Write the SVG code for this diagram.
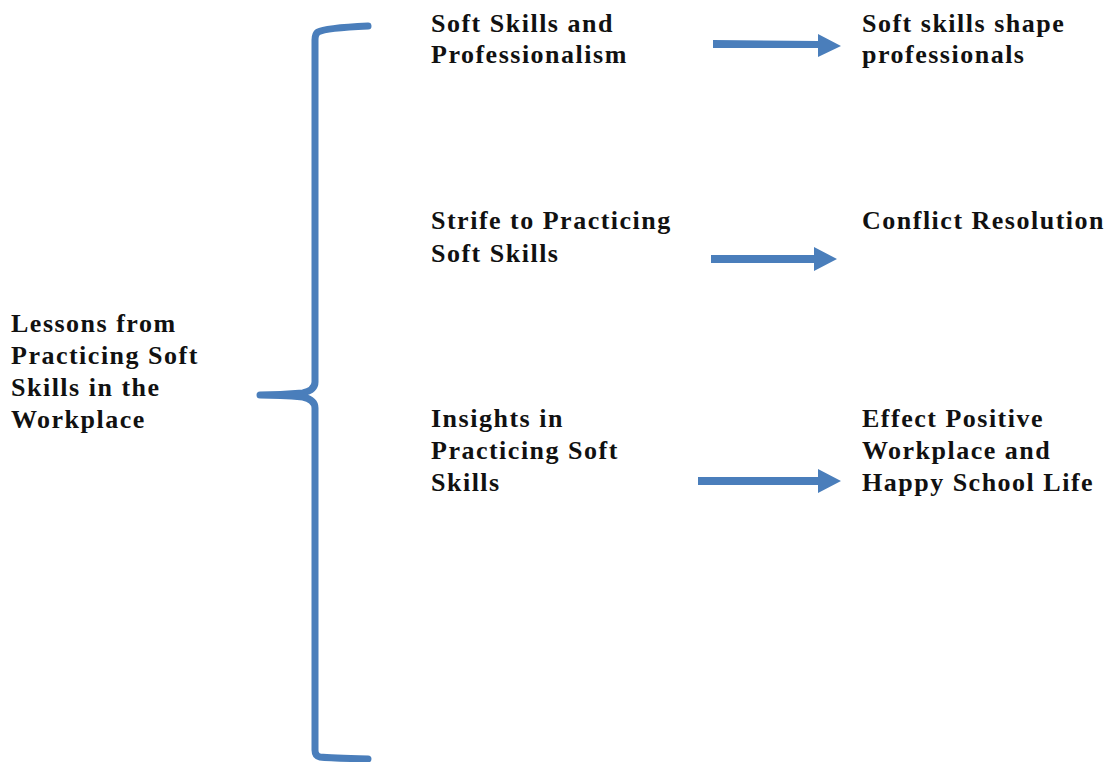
<svg xmlns="http://www.w3.org/2000/svg" width="1104" height="762" viewBox="0 0 1104 762">
<style>
text{font-family:"Liberation Serif","Times New Roman",serif;font-weight:bold;font-size:26px;fill:#111;letter-spacing:1.5px}
.conn{fill:#4a7ebb}
</style>
<rect width="1104" height="762" fill="#fff"/>
<g id="connectors">
<path d="M368,26 Q325,28 318,32 Q315,34 315,40 L315,382 Q315,390 303,393 Q280,395 260,395 Q280,395 303,397 Q315,400 315,408 L315,750 Q315,756 320,757 Q330,758 368,759" fill="none" stroke="#4a7ebb" stroke-width="7" stroke-linecap="round" stroke-linejoin="round"/>
<polygon class="conn" points="713,40 818,41 818,34 841,46 818,57 818,48 713,48"/>
<polygon class="conn" points="711,255 814,255 814,247 837,259 814,271 814,263 711,263"/>
<polygon class="conn" points="698,477 818,477 818,469 841,481 818,493 818,485 698,485"/>
</g>
<g id="root"><text x="11" y="332">Lessons from</text><text x="11" y="364">Practicing Soft</text><text x="11" y="396">Skills in the</text><text x="11" y="428">Workplace</text></g>
<g id="n1"><text x="431" y="32">Soft Skills and</text><text x="431" y="63">Professionalism</text></g>
<g id="n2"><text x="431" y="229">Strife to Practicing</text><text x="431" y="262">Soft Skills</text></g>
<g id="n3"><text x="431" y="427">Insights in</text><text x="431" y="459">Practicing Soft</text><text x="431" y="491">Skills</text></g>
<g id="r1"><text x="862" y="32">Soft skills shape</text><text x="862" y="63">professionals</text></g>
<g id="r2"><text x="862" y="229">Conflict Resolution</text></g>
<g id="r3"><text x="862" y="427">Effect Positive</text><text x="862" y="459">Workplace and</text><text x="862" y="491">Happy School Life</text></g>
</svg>
